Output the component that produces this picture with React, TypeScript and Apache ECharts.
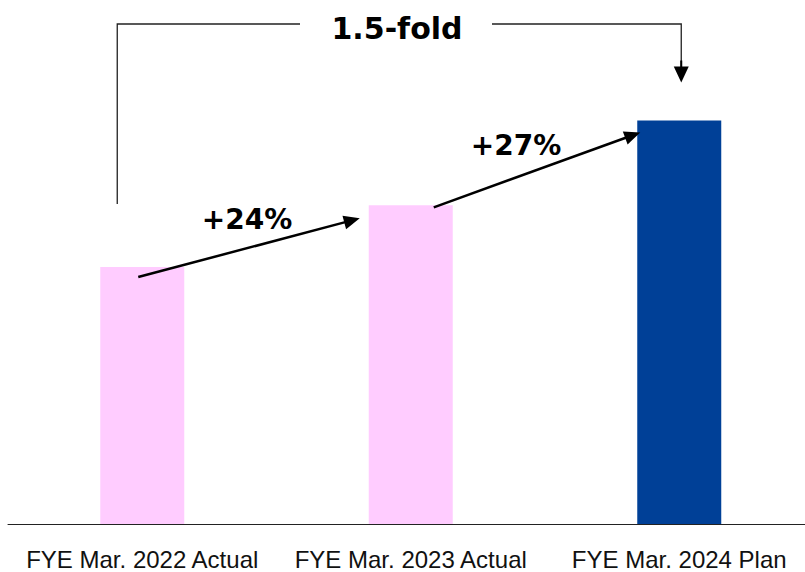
import React, { useEffect, useRef } from "react";
import * as echarts from "echarts";

const categories = ["FYE Mar. 2022 Actual", "FYE Mar. 2023 Actual", "FYE Mar. 2024 Plan"];
const values = [100, 124, 157];
const barColors = ["#FFCCFF", "#FFCCFF", "#004097"];
const growthLabels = ["+24%", "+27%"];
const foldLabel = "1.5-fold";

function arrow(x1: number, y1: number, x2: number, y2: number, lw: number, hl: number, hw: number, color: string) {
  const a = Math.atan2(y2 - y1, x2 - x1);
  const c = Math.cos(a), s = Math.sin(a);
  const bx = x2 - hl * c, by = y2 - hl * s;
  return [
    { type: "line", z: 100, shape: { x1, y1, x2: bx + c * 2, y2: by + s * 2 }, style: { stroke: color, lineWidth: lw }, silent: true },
    {
      type: "polygon",
      z: 100,
      shape: { points: [[x2, y2], [bx - s * hw, by + c * hw], [bx + s * hw, by - c * hw]] },
      style: { fill: color },
      silent: true,
    },
  ];
}

export default function App() {
  const ref = useRef<HTMLDivElement>(null);
  useEffect(() => {
    if (!ref.current) return;
    const chart = echarts.init(ref.current, null, { renderer: "svg" });
    chart.setOption({
      animation: false,
      grid: { left: 8, right: 0.5, top: 10, bottom: 48 },
      xAxis: {
        type: "category",
        data: categories,
        axisLine: { lineStyle: { color: "#222", width: 1 } },
        axisTick: { show: false },
        axisLabel: { color: "#111", fontSize: 24, fontFamily: "Liberation Sans", margin: 23, interval: 0 },
      },
      yAxis: { type: "value", min: 0, max: 200, show: false, splitLine: { show: false } },
      series: [
        {
          type: "bar",
          barWidth: 84,
          data: values.map((v, i) => ({ value: v, itemStyle: { color: barColors[i] } })),
        },
      ],
    });
    const p = values.map((v, i) => chart.convertToPixel({ seriesIndex: 0 }, [i, v]) as number[]);
    const dark = "#000";
    const a1 = { x1: p[0][0] - 4, y1: p[0][1] + 10, x2: p[1][0] - 51, y2: p[1][1] + 13 };
    const a2 = { x1: p[1][0] + 23, y1: p[1][1] + 2, x2: p[2][0] - 39, y2: p[2][1] + 12 };
    const topY = 24;
    const leftX = p[0][0] - 25;
    const rightX = p[2][0] + 2;
    const textFont = { fontFamily: "DejaVu Sans", fontWeight: "bold", fill: "#000" };
    chart.setOption({
      graphic: [
        ...arrow(a1.x1, a1.y1, a1.x2, a1.y2, 2.5, 16, 7, dark),
        ...arrow(a2.x1, a2.y1, a2.x2, a2.y2, 2.5, 16, 7, dark),
        {
          type: "text",
          z: 100,
          x: (a1.x1 + a1.x2) / 2 - 2,
          y: (a1.y1 + a1.y2) / 2 - 28,
          style: { text: growthLabels[0], fontSize: 28, align: "center", verticalAlign: "middle", ...textFont },
          silent: true,
        },
        {
          type: "text",
          z: 100,
          x: (a2.x1 + a2.x2) / 2 - 21,
          y: (a2.y1 + a2.y2) / 2 - 24,
          style: { text: growthLabels[1], fontSize: 28, align: "center", verticalAlign: "middle", ...textFont },
          silent: true,
        },
        {
          type: "polyline",
          z: 100,
          shape: { points: [[leftX, p[0][1] - 63], [leftX, topY], [300, topY]] },
          style: { stroke: "#222", lineWidth: 1.3, fill: null },
          silent: true,
        },
        {
          type: "polyline",
          z: 100,
          shape: { points: [[492, topY], [rightX, topY], [rightX, p[2][1] - 52]] },
          style: { stroke: "#222", lineWidth: 1.3, fill: null },
          silent: true,
        },
        ...arrow(rightX, p[2][1] - 60, rightX, p[2][1] - 38, 2, 16, 7.5, dark),
        {
          type: "text",
          z: 100,
          x: 397,
          y: 28.5,
          style: { text: foldLabel, fontSize: 30, align: "center", verticalAlign: "middle", ...textFont },
          silent: true,
        },
      ],
    });
    return () => chart.dispose();
  }, []);
  return (
    <div style={{ position: "absolute", left: 0, top: 0, width: 805, height: 572, overflow: "hidden", background: "#fff" }}>
      <div ref={ref} style={{ width: 814, height: 572 }} />
    </div>
  );
}
